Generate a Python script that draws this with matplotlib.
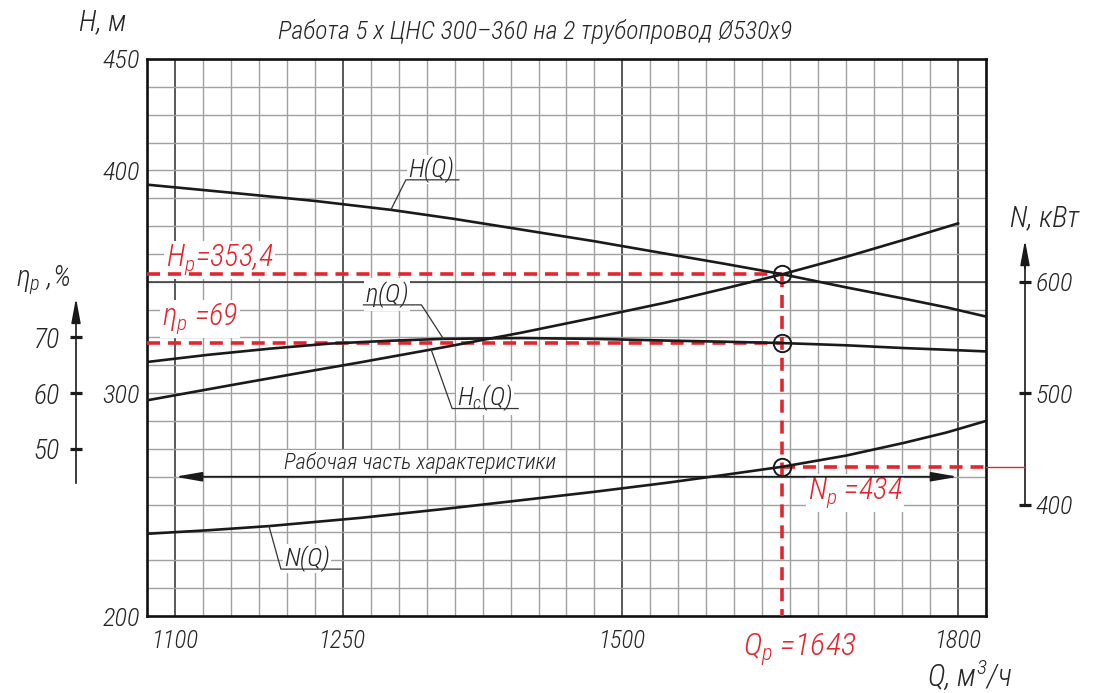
import numpy as np
import matplotlib
matplotlib.use("Agg")
import matplotlib.pyplot as plt
from matplotlib import font_manager as fm
from matplotlib.lines import Line2D
from matplotlib.transforms import IdentityTransform, blended_transform_factory

# ---------------- data ----------------
# pump head H(Q), m
q_head = [1075, 1150, 1225, 1293, 1350, 1410, 1475, 1539, 1590, 1643, 1700, 1752, 1790, 1825]
head = [393.6, 390.0, 386.3, 382.3, 378.2, 373.4, 368.2, 362.6, 358.2, 353.4, 347.5, 342.4, 338.5, 334.4]

# pipeline characteristic Hc(Q), m
q_net = [1075, 1150, 1225, 1264, 1340, 1410, 1475, 1539, 1590, 1643, 1700, 1752, 1800]
head_net = [296.8, 303.6, 310.3, 313.7, 320.6, 327.2, 333.9, 340.7, 346.8, 353.4, 361.2, 368.9, 376.2]

# efficiency eta(Q), %
q_eff = [1075, 1130, 1185, 1238, 1290, 1339, 1410, 1475, 1539, 1590, 1643, 1700, 1752, 1790, 1825]
eff = [65.6, 66.9, 68.0, 68.9, 69.4, 69.75, 69.9, 69.75, 69.45, 69.25, 69.0, 68.6, 68.1, 67.8, 67.5]

# power N(Q), kW
q_pow = [1075, 1130, 1184, 1266, 1340, 1410, 1475, 1539, 1590, 1643, 1700, 1752, 1790, 1825]
power = [373.8, 377.0, 380.7, 388.1, 396.0, 404.0, 411.5, 419.5, 426.5, 434.0, 444.0, 455.5, 464.8, 475.1]

q_ticks = [1100, 1250, 1500, 1800]
h_ticks = [200, 300, 400, 450]
eff_ticks = [50, 60, 70]
pow_ticks = [400, 500, 600]

Q_P, H_P, ETA_P, N_P = 1643, 353.4, 69, 434
work_range = [1100, 1800]

# ---------------- fonts ----------------
avail = {f.name for f in fm.fontManager.ttflist}
family = "DejaVu Sans"
for name in ("Roboto Condensed", "Liberation Sans Narrow", "Open Sans Condensed"):
    if name in avail:
        family = name
        break
has_light = any(f.name == family and f.weight in (300, "light") for f in fm.fontManager.ttflist)
wt = "light" if has_light else "normal"
plt.rcParams["font.family"] = [family, "DejaVu Sans"]
plt.rcParams["font.style"] = "italic"
plt.rcParams["font.weight"] = wt
plt.rcParams["font.stretch"] = "condensed"
plt.rcParams["mathtext.fontset"] = "custom"
plt.rcParams["mathtext.it"] = f"{family}:italic:{wt}"
plt.rcParams["mathtext.rm"] = f"{family}:italic:{wt}"
plt.rcParams["mathtext.sf"] = f"{family}:italic:{wt}"

INK = "#1a1a1a"
TXT = "#262626"
RED = "#e3262d"
plt.rcParams["text.color"] = TXT
plt.rcParams["xtick.color"] = INK
plt.rcParams["ytick.color"] = INK
plt.rcParams["xtick.labelcolor"] = TXT
plt.rcParams["ytick.labelcolor"] = TXT

# ---------------- axis mappings ----------------
def eta_to_h(e):
    return 150 + 2.5 * np.asarray(e, dtype=float)

def h_to_eta(h):
    return (np.asarray(h, dtype=float) - 150) / 2.5

def n_to_h(n):
    return np.asarray(n, dtype=float) / 2 + 50

def h_to_n(h):
    return 2 * (np.asarray(h, dtype=float) - 50)

# ---------------- figure ----------------
W, HP = 1105, 693
L, R, T, B = 147, 986, 59, 616
fig = plt.figure(figsize=(W / 100, HP / 100), dpi=100)
fig.patch.set_facecolor("white")
ax = fig.add_axes([L / W, 1 - B / HP, (R - L) / W, (B - T) / HP])
ax.set_xlim(1075, 1825)
ax.set_ylim(200, 450)


def fxy(xp, yp):
    return xp / W, 1 - yp / HP


# grid
ax.set_axisbelow(True)
ax.set_xticks(q_ticks)
ax.set_xticklabels([str(v) for v in q_ticks])
ax.set_xticks(np.arange(1075, 1826, 25), minor=True)
ax.set_yticks(h_ticks)
ax.set_yticklabels([str(v) for v in h_ticks])
ax.set_yticks(np.arange(200, 450.1, 12.5), minor=True)
ax.yaxis.remove_overlapping_locs = False
ax.grid(which="minor", color="#a0a0a0", lw=1.0)
ax.grid(which="major", axis="x", color="#3c3c3c", lw=1.2)
ax.axhline(350, color="#333333", lw=1.1, zorder=1)
ax.tick_params(which="both", length=0)
ax.tick_params(axis="x", pad=9, labelsize=18)
ax.tick_params(axis="y", pad=5, labelsize=19)
for s in ax.spines.values():
    s.set_linewidth(1.9)
    s.set_color("#111111")

# red operating-point construction lines
dash = (3.6, 2.2)
ax.plot([1075, Q_P], [H_P, H_P], color=RED, lw=2.6, dashes=dash, zorder=3)
ax.plot([1075, Q_P], [eta_to_h(ETA_P)] * 2, color=RED, lw=2.6, dashes=dash, zorder=3)
ax.plot([Q_P, Q_P], [H_P, 200], color=RED, lw=2.6, dashes=dash, zorder=3, clip_on=False)
ax.plot([Q_P, 1825], [n_to_h(N_P)] * 2, color=RED, lw=2.6, dashes=dash, zorder=3)
bt = blended_transform_factory(ax.transAxes, ax.transData)
x_naxis = (1025 - L) / (R - L)
x_eaxis = (76 - L) / (R - L)
ax.plot([1.0, x_naxis], [n_to_h(N_P)] * 2, color=RED, lw=1.0, transform=bt, clip_on=False, zorder=3)

# characteristic curves
ax.plot(q_head, head, color=INK, lw=1.9, zorder=4)
ax.plot(q_net, head_net, color=INK, lw=1.9, zorder=4)
ax.plot(q_eff, eta_to_h(eff), color=INK, lw=1.9, zorder=4)
ax.plot(q_pow, n_to_h(power), color=INK, lw=1.9, zorder=4)

# operating-point markers
ax.plot([Q_P] * 3, [H_P, eta_to_h(ETA_P), n_to_h(N_P)], "o", ms=12.5,
        mfc="none", mec=INK, mew=1.4, zorder=5, clip_on=False)

# working range arrow
band_h = 262.5
ax.annotate("", xy=(work_range[0], band_h), xytext=(work_range[1], band_h),
            arrowprops=dict(arrowstyle="<|-|>,head_length=1.6,head_width=0.28",
                            color=INK, lw=1.3, shrinkA=0, shrinkB=0), zorder=4)
ax.text(*fxy(420, 463), "Рабочая часть характеристики", transform=fig.transFigure,
        ha="center", va="center", fontsize=16, zorder=2.5,
        bbox=dict(fc="white", ec="none", pad=1.5))

# secondary scales: efficiency (left) and power (right)
sec_e = ax.secondary_yaxis(x_eaxis, functions=(h_to_eta, eta_to_h))
sec_e.set_yticks(eff_ticks)
sec_e.set_yticklabels([str(v) for v in eff_ticks])
sec_e.spines["left"].set_bounds(43.9, 74)
sec_e.spines["left"].set_linewidth(1.2)
sec_e.spines["left"].set_color(INK)
sec_e.tick_params(axis="y", direction="inout", length=9, width=2.3, pad=7, labelsize=20)

sec_n = ax.secondary_yaxis(x_naxis, functions=(h_to_n, n_to_h))
sec_n.set_yticks(pow_ticks)
sec_n.set_yticklabels([str(v) for v in pow_ticks])
sec_n.spines["right"].set_bounds(400, 616)
sec_n.spines["right"].set_linewidth(1.2)
sec_n.spines["right"].set_color(INK)
sec_n.tick_params(axis="y", direction="inout", length=9, width=2.3, pad=3, labelsize=19)

for xa, lo, hi in ((x_eaxis, eta_to_h(73.0), eta_to_h(77.1)),
                   (x_naxis, n_to_h(612), n_to_h(637.5))):
    ax.annotate("", xy=(xa, hi), xytext=(xa, lo), xycoords=bt, textcoords=bt,
                arrowprops=dict(arrowstyle="-|>,head_length=1.5,head_width=0.28",
                                color=INK, lw=1.2, shrinkA=0, shrinkB=0),
                annotation_clip=False)


# curve labels with leaders
def leader(q, h, text, dx, dy, length, to_right=True, tdx=2):
    x0, y0 = ax.transData.transform((q, h))
    xu, yu = x0 + dx, y0 - dy
    xe = xu + length if to_right else xu - length
    fig.add_artist(Line2D([x0, xu, xe], [y0, yu, yu], transform=IdentityTransform(),
                          color="#333333", lw=0.9, zorder=6))
    tx = min(xu, xe) + tdx
    ax.text(tx / W, (yu + 3) / HP, text, transform=fig.transFigure, ha="left",
            va="baseline", fontsize=19, zorder=2.5,
            bbox=dict(fc="white", ec="none", pad=1))


q_att = 1293
leader(q_att, np.interp(q_att, q_head, head), "H(Q)", 15, -30, 53)
q_att = 1340
leader(q_att, eta_to_h(np.interp(q_att, q_eff, eff)), r"$\eta$(Q)", -22, -34, 58, to_right=False)
q_att = 1329
leader(q_att, np.interp(q_att, q_net, head_net), r"$H_c$(Q)", 21, 59, 66, tdx=5)
q_att = 1184
leader(q_att, n_to_h(np.interp(q_att, q_pow, power)), "N(Q)", 12, 43, 60, tdx=3)

# operating-point values
lab_h = f"$H_p$={H_P:.1f}".replace(".", ",")
ax.text(*fxy(166, 266), lab_h, transform=fig.transFigure, color=RED, fontsize=22,
        va="baseline", ha="left", zorder=2.5, bbox=dict(fc="white", ec="none", pad=1))
ax.text(*fxy(162, 325), rf"$\eta_p$ ={ETA_P}", transform=fig.transFigure, color=RED,
        fontsize=22, va="baseline", ha="left", zorder=2.5,
        bbox=dict(fc="white", ec="none", pad=1))
ax.text(*fxy(808, 499), f"$N_p$ ={N_P}", transform=fig.transFigure, color=RED,
        fontsize=22, va="baseline", ha="left", zorder=2.5,
        bbox=dict(fc="white", ec="none", pad=1))
xq = ax.transData.transform((Q_P, 200))[0]
fig.text((xq - 39) / W, 1 - 656 / HP, f"$Q_p$ ={Q_P}", color=RED, fontsize=23,
         va="baseline", ha="left")

# titles and axis names
fig.text(*fxy(535, 32), "Работа 5 х ЦНС 300–360 на 2 трубопровод Ø530х9",
         ha="center", va="center", fontsize=18.5)
fig.text(*fxy(103, 22), "H, м", ha="center", va="center", fontsize=21)
fig.text(*fxy(1045, 218), "N, кВт", ha="center", va="center", fontsize=21)
fig.text(*fxy(43, 280), r"$\eta_p$ ,%", ha="center", va="center", fontsize=21)
fig.text(*fxy(970, 675), "Q, м$^3$/ч", ha="center", va="center", fontsize=22)

fig.savefig("out.png", dpi=100, facecolor="white")
